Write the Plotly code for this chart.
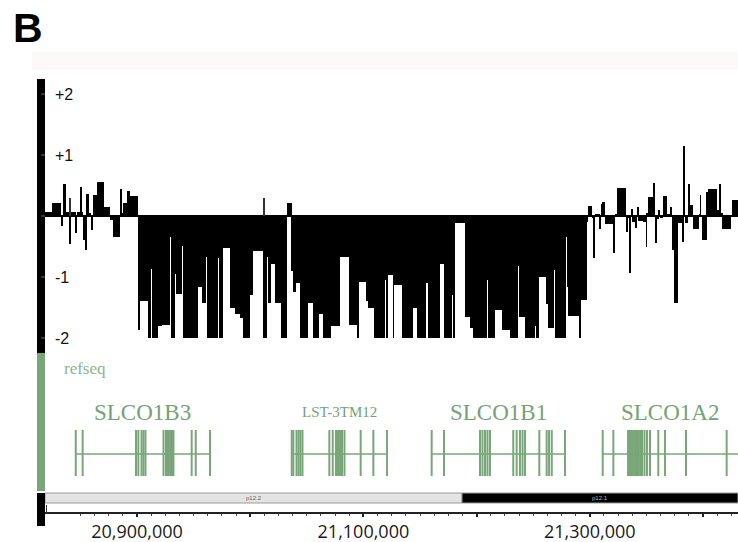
import plotly.graph_objects as go

# ---------------- data ----------------
# Copy-number segments on chr12 (kb): consecutive edges, one log2 ratio per segment
seg_edges_kb = [
    20818.7, 20824.9, 20832.9, 20834.6, 20837.3, 20840.8, 20841.7, 20846.1, 20847.0, 20850.5,
    20851.4, 20852.3, 20854.1, 20855.0, 20857.6, 20859.4, 20861.1, 20864.7, 20870.9, 20876.2,
    20878.8, 20885.0, 20885.9, 20887.6, 20891.2, 20893.8, 20900.9, 20901.8, 20909.7, 20912.4,
    20913.3, 20918.6, 20922.1, 20929.2, 20930.0, 20933.6, 20934.5, 20939.8, 20940.6, 20953.9,
    20957.4, 20961.0, 20961.8, 20971.6, 20972.4, 20976.0, 20982.2, 20986.6, 20991.0, 20993.6,
    20999.8, 21002.5, 21011.3, 21014.8, 21015.7, 21018.4, 21021.9, 21027.2, 21032.5, 21036.9,
    21037.8, 21040.5, 21044.0, 21051.1, 21055.5, 21060.8, 21064.3, 21071.4, 21079.3, 21087.3,
    21095.2, 21096.1, 21102.3, 21104.1, 21109.4, 21119.1, 21120.0, 21121.7, 21126.2, 21127.0,
    21134.1, 21143.8, 21147.4, 21155.3, 21156.2, 21157.1, 21167.7, 21171.2, 21178.3, 21179.2,
    21180.9, 21189.8, 21194.2, 21196.8, 21209.2, 21210.1, 21216.3, 21222.4, 21229.5, 21236.6,
    21237.5, 21242.8, 21251.6, 21252.5, 21255.1, 21261.3, 21263.1, 21268.4, 21269.3, 21279.0,
    21279.9, 21280.8, 21290.5, 21291.4, 21297.5, 21298.4, 21302.0, 21303.7, 21304.6, 21309.0,
    21309.9, 21310.8, 21313.4, 21320.5, 21322.3, 21324.0, 21332.0, 21332.9, 21335.5, 21336.4,
    21337.3, 21339.9, 21341.7, 21342.6, 21347.0, 21349.7, 21350.5, 21351.4, 21355.8, 21357.6,
    21358.5, 21361.1, 21362.0, 21364.7, 21368.2, 21371.7, 21372.6, 21374.4, 21377.9, 21381.5,
    21383.2, 21384.1, 21386.8, 21387.6, 21388.5, 21391.2, 21396.5, 21397.4, 21398.2, 21399.1,
    21403.5, 21404.4, 21412.4, 21415.0, 21415.9, 21416.8, 21424.7, 21425.6, 21432.0,
]
seg_log2 = [
    0.07, 0.22, -0.17, 0.52, 0.07, -0.46, 0.07, -0.28, 0.07, 0.48,
    0.07, -0.39, -0.56, 0.36, 0.05, -0.23, 0.34, 0.56, 0.14, -0.07,
    -0.34, 0.45, 0.05, 0.21, 0.41, 0.32, -1.87, -1.40, -2.0, -0.87,
    -2.0, -1.80, -1.79, -0.34, -2.0, -0.95, -1.28, -0.49, -2.0, -1.16,
    -1.43, -0.67, -2.0, -0.69, -2.0, -0.52, -1.50, -1.60, -1.68, -2.0,
    -1.30, -0.57, -2.0, -0.68, -1.42, -0.79, -1.42, -2.0, 0.22, -0.90,
    -1.24, -1.10, -2.0, -1.43, -2.0, -1.61, -2.0, -1.81, -0.67, -1.79,
    -2.0, -1.08, -1.40, -1.51, -2.0, -1.05, -2.0, -0.97, -2.0, -1.13,
    -2.0, -1.50, -2.0, -1.10, -0.95, -2.0, -0.79, -2.0, -1.30, -2.0,
    -0.12, -1.65, -1.84, -2.0, -1.05, -2.0, -1.54, -1.87, -2.0, -0.82,
    -1.65, -2.0, -1.80, -2.0, -1.00, -1.45, -1.84, -0.89, -2.0, -0.34,
    -1.16, -1.64, -2.0, -1.37, -0.10, 0.16, -0.04, -0.69, 0.03, -0.22,
    0.20, 0.23, -0.13, -0.61, 0.02, 0.46, -0.27, -0.04, -0.94, 0.12,
    -0.10, -0.19, 0.15, -0.09, -0.10, -0.50, 0.05, 0.31, 0.54, -0.44,
    -0.05, 0.10, -0.04, 0.33, 0.03, 0.15, -0.56, -1.42, -0.12, -0.42,
    1.15, -0.12, 0.15, 0.52, 0.18, -0.22, 0.02, 0.34, 0.0, -0.39,
    0.40, 0.45, 0.10, 0.52, 0.05, -0.22, 0.0, 0.26,
]
# single-probe spikes that sit on top of a neighbouring segment
spike_kb = [20841.2, 21012.2]
spike_log2 = [0.29, 0.29]

ytick_vals = [2, 1, -1, -2]
ytick_text = ["+2", "+1", "-1", "-2"]

# RefSeq genes: exon positions (kb) and transcript spans (kb)
gene_names = ["SLCO1B3", "LST-3TM12", "SLCO1B1", "SLCO1A2"]
gene_spans_kb = [(20845.9, 20964.5), (21036.7, 21120.9), (21160.3, 21278.1), (21311.4, 21445.0)]
gene_exons_kb = [
    [20845.9, 20852.0, 20899.1, 20901.2, 20904.0, 20905.7, 20907.5, 20923.4, 20925.6, 20927.4,
     20929.2, 20930.9, 20932.2, 20948.3, 20951.9, 20964.5],
    [21036.7, 21038.1, 21040.9, 21042.7, 21044.4, 21046.2, 21069.9, 21072.9, 21075.8, 21077.6,
     21079.3, 21081.1, 21083.3, 21097.6, 21108.8, 21120.9],
    [21160.3, 21171.2, 21203.0, 21205.2, 21207.4, 21209.6, 21211.8, 21232.4, 21235.4, 21238.3,
     21240.6, 21242.8, 21255.4, 21261.9, 21264.0, 21266.4, 21278.1],
    [21311.4, 21320.8, 21333.8, 21335.5, 21337.3, 21339.1, 21340.8, 21342.6, 21344.4, 21346.1,
     21348.3, 21350.5, 21353.2, 21360.5, 21366.4, 21385.0, 21420.9],
]

# Cytobands (kb)
band_names = ["p12.2", "p12.1"]
band_spans_kb = [(20700.0, 21187.1), (21187.1, 21600.0)]

# Coordinate axis
xtick_bp = [20900000, 21000000, 21100000, 21200000, 21300000, 21400000]
xtick_text = ["20,900,000", "", "21,100,000", "", "21,300,000", ""]

# ---------------- layout helpers ----------------
W, H = 738, 542
X_MIN, X_MAX = 20818730, 21430920


def px_x(p):
    return p / W


def px_y(p):
    return 1 - p / H


GREEN = "#79a679"
GREEN_TEXT = "#74a274"

fig = go.Figure()

# copy-number bars
starts = [e * 1000 for e in seg_edges_kb[:-1]]
ends = [e * 1000 for e in seg_edges_kb[1:]]
fig.add_trace(go.Bar(
    x=[(a + b) / 2 for a, b in zip(starts, ends)],
    y=seg_log2,
    width=[b - a for a, b in zip(starts, ends)],
    marker=dict(color="black", line=dict(width=0)),
    xaxis="x", yaxis="y", hoverinfo="skip",
))
fig.add_trace(go.Bar(
    x=[k * 1000 for k in spike_kb],
    y=spike_log2,
    width=[900] * len(spike_kb),
    marker=dict(color="#333333", line=dict(width=0)),
    xaxis="x", yaxis="y", hoverinfo="skip",
))

# gene models
EXON_LO, EXON_HI, INTRON_Y = 0.101, 0.435, 0.261
for name, (g0, g1), exons in zip(gene_names, gene_spans_kb, gene_exons_kb):
    fig.add_trace(go.Scatter(
        x=[g0 * 1000, g1 * 1000], y=[INTRON_Y, INTRON_Y], mode="lines",
        line=dict(color=GREEN, width=1.5), xaxis="x", yaxis="y2", hoverinfo="skip",
    ))
    ex_x, ex_y = [], []
    for e in exons:
        ex_x += [e * 1000, e * 1000, None]
        ex_y += [EXON_LO, EXON_HI, None]
    fig.add_trace(go.Scatter(
        x=ex_x, y=ex_y, mode="lines", line=dict(color=GREEN, width=2),
        xaxis="x", yaxis="y2", hoverinfo="skip",
    ))

label_sizes = {"LST-3TM12": 15}
annotations = []
for name, (g0, g1) in zip(gene_names, gene_spans_kb):
    lo = max(g0 * 1000, X_MIN)
    hi = min(g1 * 1000, X_MAX)
    annotations.append(dict(
        x=(lo + hi) / 2, y=0.565, xref="x", yref="y2", text=name, showarrow=False,
        xanchor="center", yanchor="middle",
        font=dict(family="Liberation Serif", size=label_sizes.get(name, 23), color=GREEN_TEXT),
    ))

annotations.append(dict(
    x=px_x(62), y=px_y(368), xref="paper", yref="paper", text="refseq", showarrow=False,
    xanchor="left", yanchor="middle",
    font=dict(family="Liberation Serif", size=17, color="#8ab58a"),
))
annotations.append(dict(
    x=px_x(11), y=px_y(28), xref="paper", yref="paper", text="<b>B</b>", showarrow=False,
    xanchor="left", yanchor="middle",
    font=dict(family="Liberation Sans", size=41, color="black"),
))

shapes = []
# faint header strip
shapes.append(dict(type="rect", xref="paper", yref="paper", x0=px_x(32), x1=1,
                   y0=px_y(70), y1=px_y(52), fillcolor="#fdf9f9", line=dict(width=0), layer="below"))
# track handles on the left
shapes.append(dict(type="rect", xref="paper", yref="paper", x0=px_x(37), x1=px_x(45),
                   y0=px_y(353), y1=px_y(79), fillcolor="black", line=dict(width=0)))
shapes.append(dict(type="rect", xref="paper", yref="paper", x0=px_x(37), x1=px_x(45),
                   y0=px_y(491), y1=px_y(353), fillcolor=GREEN, line=dict(width=0)))
shapes.append(dict(type="rect", xref="paper", yref="paper", x0=px_x(37), x1=px_x(45),
                   y0=px_y(526), y1=px_y(493), fillcolor="black", line=dict(width=0)))
for v in [2, 1, 0, -1, -2]:
    shapes.append(dict(type="line", xref="paper", yref="y", x0=px_x(41), x1=px_x(45),
                       y0=v, y1=v, line=dict(color="#6a6a6a", width=1)))

# cytoband ideogram
band_fill = ["#e3e3e3", "black"]
band_text = ["#666666", "#bbbbbb"]
for name, (b0, b1), fc, tc in zip(band_names, band_spans_kb, band_fill, band_text):
    lo = max(b0 * 1000, X_MIN)
    hi = min(b1 * 1000, X_MAX)
    shapes.append(dict(type="rect", xref="x", yref="paper", x0=lo, x1=hi,
                       y0=px_y(503), y1=px_y(493), fillcolor=fc,
                       line=dict(color="#9a9a9a", width=1)))
    annotations.append(dict(
        x=(lo + hi) / 2, y=px_y(498), xref="x", yref="paper", text=name, showarrow=False,
        xanchor="center", yanchor="middle",
        font=dict(family="Liberation Sans", size=6, color=tc),
    ))
# start marker on the ruler
shapes.append(dict(type="line", xref="paper", yref="paper", x0=px_x(46.5), x1=px_x(46.5),
                   y0=px_y(513), y1=px_y(505), line=dict(color="#333", width=1)))

fig.update_layout(
    width=W, height=H, margin=dict(l=0, r=0, t=0, b=0),
    paper_bgcolor="white", plot_bgcolor="white",
    showlegend=False, barmode="overlay", bargap=0,
    xaxis=dict(
        domain=[px_x(45), 1], range=[X_MIN, X_MAX], anchor="free", position=29 / H,
        showline=True, linecolor="#222", linewidth=1.5, showgrid=False, zeroline=False,
        ticks="outside", ticklen=3, tickwidth=1.5, tickcolor="#222",
        tickvals=xtick_bp, ticktext=xtick_text,
        tickfont=dict(family="Open Sans", size=18, color="#1a1a1a"),
        minor=dict(dtick=12500, tick0=20900000, ticks="outside", ticklen=2,
                   tickwidth=1, tickcolor="#444", showgrid=False),
    ),
    yaxis=dict(
        domain=[px_y(352), px_y(79)], range=[(216 - 352) / 61, (216 - 79) / 61],
        anchor="free", position=px_x(45), showline=False, showgrid=False,
        zeroline=True, zerolinecolor="black", zerolinewidth=1.5,
        tickvals=ytick_vals, ticktext=ytick_text, ticks="",
        ticklabelposition="inside", ticklabelstandoff=6,
        tickfont=dict(family="Liberation Sans", size=16, color="#111"),
    ),
    yaxis2=dict(
        domain=[px_y(490), px_y(352)], range=[0, 1], anchor="free", position=px_x(45),
        visible=False, showgrid=False, zeroline=False,
    ),
    shapes=shapes,
    annotations=annotations,
)

fig.write_html("out.html")
